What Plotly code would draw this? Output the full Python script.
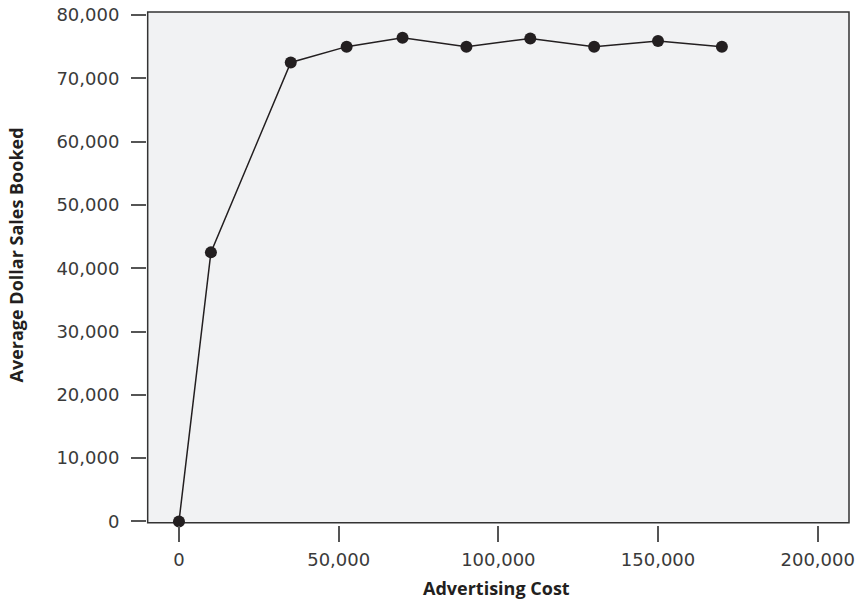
import plotly.graph_objects as go

# Data
advertising_cost = [0, 10000, 35000, 52500, 70000, 90000, 110000, 130000, 150000, 170000]
avg_sales_booked = [0, 42500, 72500, 75000, 76400, 75000, 76300, 75000, 75900, 75000]

x_tickvals = [0, 50000, 100000, 150000, 200000]
x_ticktext = ["0", "50,000", "100,000", "150,000", "200,000"]
y_tickvals = [0, 10000, 20000, 30000, 40000, 50000, 60000, 70000, 80000]
y_ticktext = ["0", "10,000", "20,000", "30,000", "40,000", "50,000", "60,000", "70,000", "80,000"]

x_title = "Advertising Cost"
y_title = "Average Dollar Sales Booked"

ink = "#231f20"
tick_font = dict(family="DejaVu Sans", size=18, color="#3a3a3a")
title_font = dict(family="Open Sans", size=18, color=ink)

fig = go.Figure()
fig.add_trace(go.Scatter(
    x=advertising_cost, y=avg_sales_booked,
    mode="lines+markers",
    line=dict(color=ink, width=1.5),
    marker=dict(color=ink, size=12),
    cliponaxis=False,
    showlegend=False,
    hoverinfo="x+y",
))

fig.update_layout(
    width=862, height=602, autosize=False,
    margin=dict(l=146, r=13, t=12, b=77, pad=0, autoexpand=False),
    paper_bgcolor="white",
    plot_bgcolor="#f1f2f3",
    xaxis=dict(
        domain=[0.0024, 1], range=[-9800, 209800],
        anchor="free", position=0, automargin=False,
        showline=False, showgrid=False, zeroline=False,
        ticks="outside", ticklen=16, tickwidth=1.5, tickcolor="#555555",
        tickvals=x_tickvals, ticktext=x_ticktext,
        tickfont=tick_font, ticklabelstandoff=2,
    ),
    yaxis=dict(
        domain=[0.0045, 1], range=[-204, 80472],
        anchor="free", position=0, automargin=False,
        showline=False, showgrid=False, zeroline=False,
        ticks="outside", ticklen=15, tickwidth=1.5, tickcolor="#555555",
        tickvals=y_tickvals, ticktext=y_ticktext,
        tickfont=tick_font, ticklabelstandoff=8,
    ),
    shapes=[dict(
        type="rect", xref="x domain", yref="y domain",
        x0=0, x1=1, y0=0, y1=1,
        line=dict(color="#333333", width=1.5),
        fillcolor="rgba(0,0,0,0)", layer="below",
    )],
    annotations=[
        dict(text="<b>" + x_title + "</b>", xref="paper", yref="paper",
             x=0.4979, y=-0.1228, xanchor="center", yanchor="middle",
             showarrow=False, font=title_font),
        dict(text="<b>" + y_title + "</b>", xref="paper", yref="paper",
             x=-0.1842, y=0.5263, xanchor="center", yanchor="middle",
             textangle=-90, showarrow=False, font=title_font),
    ],
)

# remove the browser's default 8px body margin so the figure sits at (0, 0)
fig.write_html("out.html", config={"displayModeBar": False},
               post_script="document.body.style.margin='0';")
